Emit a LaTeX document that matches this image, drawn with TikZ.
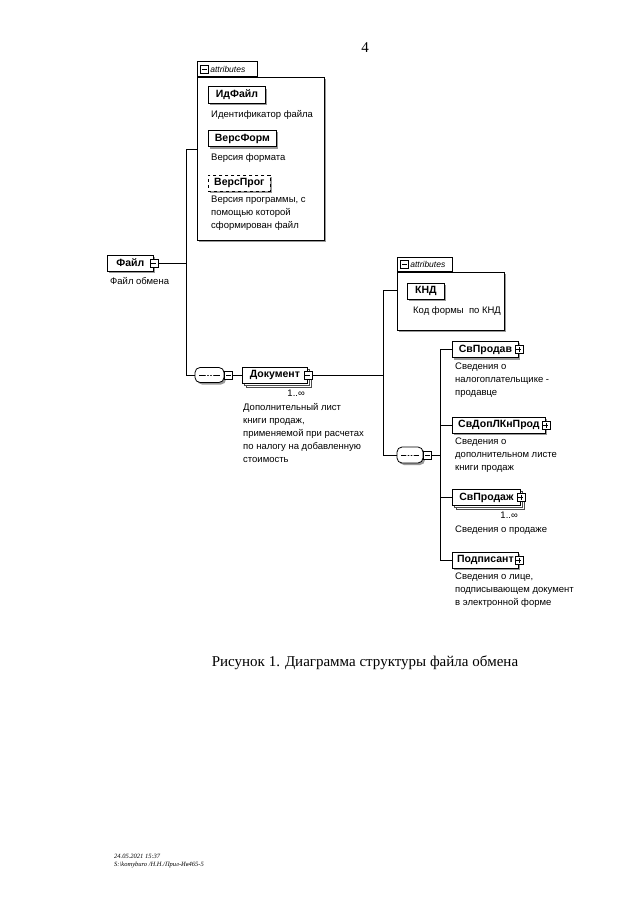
\documentclass[tikz,border=0pt]{standalone}
\usepackage{fontspec}
\setmainfont{Liberation Serif}
\setsansfont{Liberation Sans}
\usetikzlibrary{shadows}

\begin{document}
\begin{tikzpicture}[x=1pt,y=-1pt]
    \pgfmathsetmacro{\shadowshift}{2}
    \pgfmathsetmacro{\expsize}{8}
    \providecommand{\elemfontsize}{\fontsize{10.5pt}{12pt}\selectfont}
    \providecommand{\notefontsize}{\fontsize{9.5pt}{13pt}\selectfont}
    \providecommand{\tabfontsize}{\fontsize{8.5pt}{9pt}\selectfont}
    \providecommand{\captionfontsize}{\fontsize{15pt}{18pt}\selectfont}
    \providecommand{\stampfontsize}{\fontsize{6.5pt}{8pt}\selectfont}
    \tikzset{
      shade/.style={drop shadow={shadow xshift=\shadowshift pt,shadow yshift=-\shadowshift pt,fill=black!40,opacity=1}},
      elem/.style={draw,fill=white,line width=0.8pt,anchor=west,minimum height=16pt,inner xsep=3pt,
        font=\elemfontsize\sffamily\bfseries,shade},
      optelem/.style={elem,dashed},
      multielem/.style={draw,fill=white,line width=0.8pt,anchor=west,minimum height=16pt,inner xsep=3pt,
        font=\elemfontsize\sffamily\bfseries,
        double copy shadow={shadow xshift=\shadowshift pt,shadow yshift=-\shadowshift pt,fill=white,draw=black!70}},
      minusbox/.style={draw,fill=white,inner sep=0,minimum size=\expsize pt,line width=0.6pt,
        path picture={\draw[line width=0.6pt] ([xshift=1.5pt]path picture bounding box.west) -- ([xshift=-1.5pt]path picture bounding box.east);}},
      plusbox/.style={draw,fill=white,inner sep=0,minimum size=\expsize pt,line width=0.6pt,
        path picture={\draw[line width=0.6pt] ([xshift=1.5pt]path picture bounding box.west) -- ([xshift=-1.5pt]path picture bounding box.east);
                      \draw[line width=0.6pt] ([yshift=1.5pt]path picture bounding box.south) -- ([yshift=-1.5pt]path picture bounding box.north);}},
      note/.style={anchor=north west,align=left,inner sep=0,font=\notefontsize\sffamily},
      mult/.style={anchor=north east,inner sep=0,font=\notefontsize\sffamily},
      attrbox/.style={draw,fill=white,anchor=north west,inner sep=0,line width=0.7pt,shade},
      attrtab/.style={draw,fill=white,anchor=south west,inner xsep=2pt,inner ysep=0,line width=0.7pt,
        align=left,font=\tabfontsize\sffamily\itshape},
      seqoval/.style={draw,fill=white,line width=0.8pt,rounded corners=5pt,inner sep=0,shade,
        path picture={\draw ([xshift=4pt]path picture bounding box.west) -- ([xshift=-4pt]path picture bounding box.east);
          \foreach \dx in {-3,0,3} \fill ([xshift=\dx pt]path picture bounding box.center) circle (1.2pt);}},
      wire/.style={line width=0.9pt}
    }
    \useasboundingbox (0,0) rectangle (640,905);
    \node[font=\captionfontsize\rmfamily] (pagenum) at (365,48) {4};

    % attributes of the file
    \node[attrbox,minimum width=127pt,minimum height=163pt] (attrA) at (197,77) {};
    \node[attrtab,text width=56pt,minimum height=15pt] (tabA) at (attrA.north west) {\hspace{11pt}attributes};
    \node[minusbox] (tabAx) at ([xshift=7.5pt]tabA.west) {};
    \node[elem,minimum width=57pt] (idfayl) at (208,95) {ИдФайл};
    \node[note] (idfaylnote) at (211,110) {Идентификатор файла};
    \node[elem,minimum width=68pt] (versform) at (208,138.5) {ВерсФорм};
    \node[note] (versformnote) at (211,153) {Версия формата};
    \node[optelem,minimum width=62pt] (versprog) at (208,183) {ВерсПрог};
    \node[note] (versprognote) at (211,196) {Версия программы, с\\помощью которой\\сформирован файл};

    % root element
    \node[elem,minimum width=46pt] (fayl) at (107,263) {Файл\hspace{6pt}};
    \node[minusbox] (faylx) at (fayl.east) {};
    \node[note] (faylnote) at (110,277) {Файл обмена};

    \node[seqoval,minimum width=29pt,minimum height=15pt] (seqA) at (209.5,375) {};
    \node[minusbox,anchor=west] (seqAx) at (seqA.east) {};
    \node[multielem,minimum width=65pt] (doc) at (242,375) {Документ\hspace{6pt}};
    \node[minusbox] (docx) at (doc.east) {};
    \node[mult] (docmult) at (305,390) {1..∞};
    \node[note] (docnote) at (243,403) {Дополнительный лист\\книги продаж,\\применяемой при расчетах\\по налогу на добавленную\\стоимость};

    % attributes of the document
    \node[attrbox,minimum width=107pt,minimum height=58pt] (attrB) at (397,272) {};
    \node[attrtab,text width=51pt,minimum height=14pt] (tabB) at (attrB.north west) {\hspace{11pt}attributes};
    \node[minusbox] (tabBx) at ([xshift=7.5pt]tabB.west) {};
    \node[elem,minimum width=37pt] (knd) at (407,291) {КНД};
    \node[note] (kndnote) at (413,306) {Код формы \ по КНД};

    % children of the document
    \node[seqoval,minimum width=26pt,minimum height=16pt] (seqB) at (410,455) {};
    \node[minusbox,anchor=west] (seqBx) at (seqB.east) {};
    \node[elem,minimum width=66pt] (svprodav) at (452,349.5) {СвПродав\hspace{6pt}};
    \node[plusbox] (svprodavx) at (svprodav.east) {};
    \node[note] (svprodavnote) at (455,363) {Сведения о\\налогоплательщике -\\продавце};
    \node[elem,minimum width=93pt] (svdop) at (452,425) {СвДопЛКнПрод\hspace{6pt}};
    \node[plusbox] (svdopx) at (svdop.east) {};
    \node[note] (svdopnote) at (455,438) {Сведения о\\дополнительном листе\\книги продаж};
    \node[multielem,minimum width=68pt] (svprodazh) at (452,497.5) {СвПродаж\hspace{6pt}};
    \node[plusbox] (svprodazhx) at (svprodazh.east) {};
    \node[mult] (svprodazhmult) at (518,512) {1..∞};
    \node[note] (svprodazhnote) at (455,526) {Сведения о продаже};
    \node[elem,minimum width=66pt] (podpis) at (452,560) {Подписант\hspace{6pt}};
    \node[plusbox] (podpisx) at (podpis.east) {};
    \node[note] (podpisnote) at (455,573) {Сведения о лице,\\подписывающем документ\\в электронной форме};

    % connectors
    \coordinate (jA) at (186.5,263);
    \coordinate (jAtop) at (186.5,149);
    \coordinate (jB) at (383.5,375);
    \coordinate (jBtop) at (383.5,290);
    \coordinate (jC) at (440.5,455);
    \draw[wire] (faylx.east) -- (jA);
    \draw[wire] (attrA.west |- jAtop) -- (jAtop) -- (jA) |- (seqA.west);
    \draw[wire] (seqAx.east) -- (doc.west);
    \draw[wire] (docx.east) -- (jB);
    \draw[wire] (attrB.west |- jBtop) -- (jBtop) -- (jB) |- (seqB.west);
    \draw[wire] (seqBx.east) -- (jC);
    \draw[wire] (svprodav.west) -| (jC) |- (podpis.west);
    \draw[wire] (svdop.west) -- (svdop.west -| jC);
    \draw[wire] (svprodazh.west) -- (svprodazh.west -| jC);

    \node[font=\captionfontsize\rmfamily] (caption) at (365,663) {Рисунок 1. Диаграмма структуры файла обмена};
    \node[anchor=west,inner sep=0,align=left,font=\stampfontsize\rmfamily\itshape] (stamp) at (114,861) {24.05.2021 15:37\\S:\textbackslash komyburo /Н.Н./Прил-Ив465-5};
\end{tikzpicture}
\end{document}
